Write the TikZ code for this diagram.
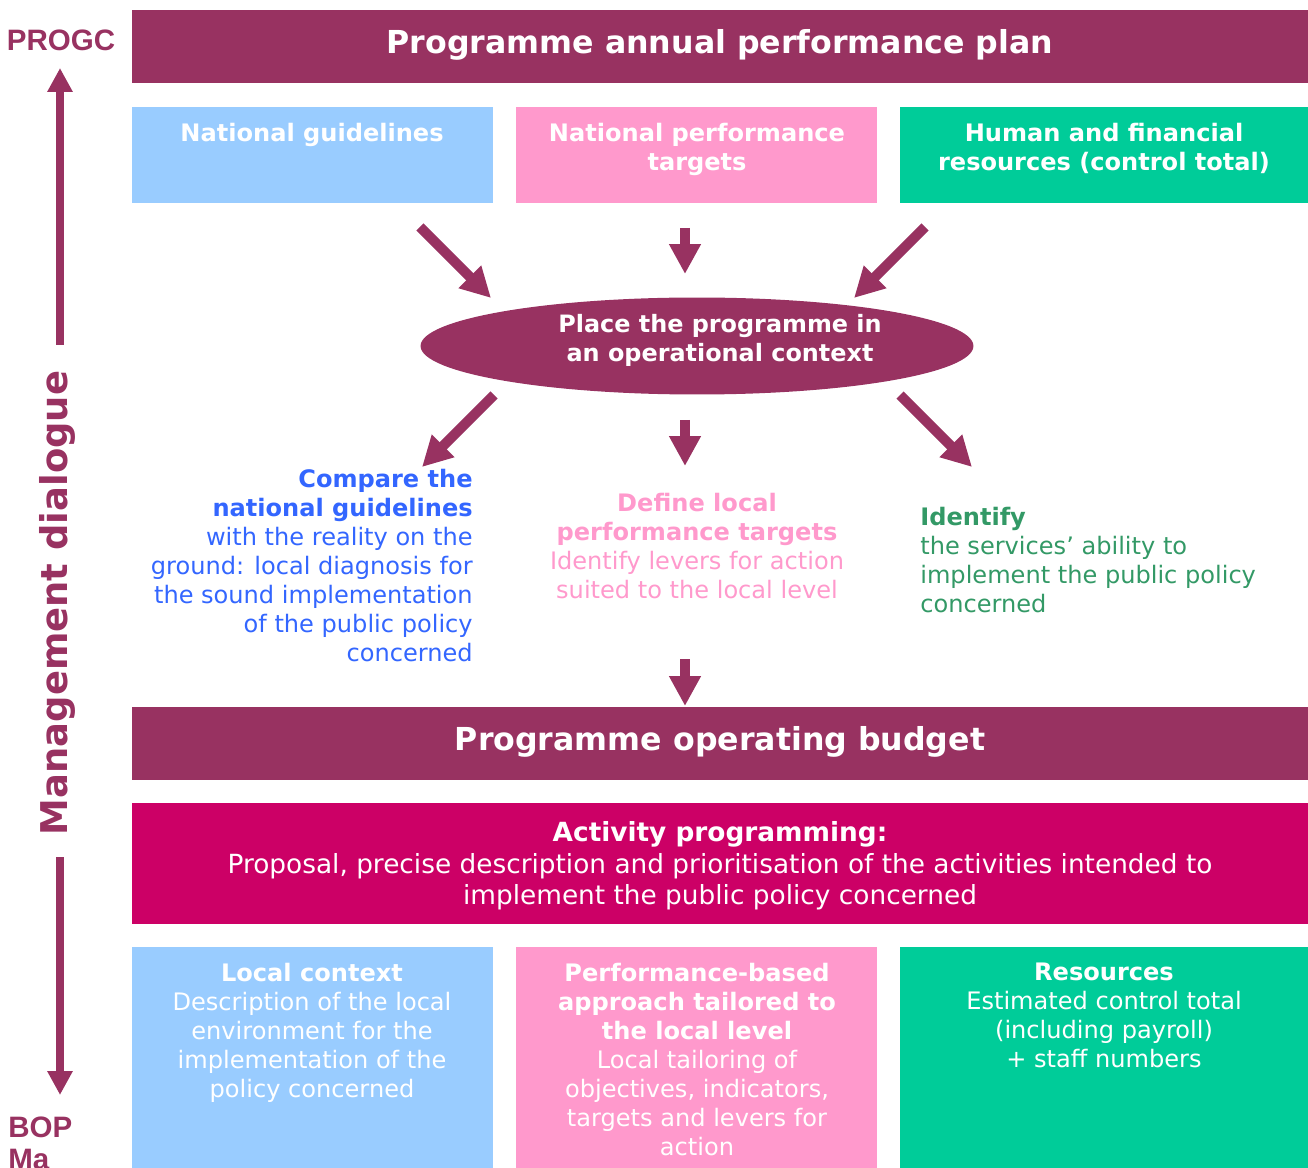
\documentclass[tikz,border=0pt]{standalone}
\usepackage{fontspec}
\setmainfont{DejaVu Sans}
\newfontfamily\arialfont{Liberation Sans}
\definecolor{plum}{RGB}{152, 50, 97}
\definecolor{skyblue}{RGB}{153, 204, 255}
\definecolor{rosepink}{RGB}{255, 153, 204}
\definecolor{seagreen}{RGB}{0, 204, 153}
\definecolor{deepmagenta}{RGB}{204, 0, 102}
\definecolor{textblue}{RGB}{51, 102, 255}
\definecolor{textgreen}{RGB}{51, 153, 102}
\usetikzlibrary{shapes, arrows.meta, positioning, calc}

\begin{document}
\begin{tikzpicture}[x=0.02cm, y=-0.02cm,
  bar/.style={fill=plum, text=white, minimum width=23.52cm, minimum height=1.46cm, inner sep=0pt, anchor=north west},
  card/.style={inner sep=0pt, anchor=north west},
  cardtext/.style={text=white, align=center, inner sep=0pt, anchor=north, font=\fontsize{13.7}{16.5}\selectfont},
  fatarrow/.style={plum, line width=0.2cm, -{Triangle[width=0.6cm, length=0.6cm]}},
  sidearrow/.style={plum, line width=0.16cm, -{Triangle[width=0.48cm, length=0.48cm]}}]
  \useasboundingbox (0,0) rectangle (1308,1168);

  % Annual plan
  \node[bar] (app) at (132,10) {};
  \node[text=white, font=\fontsize{18}{21}\selectfont\bfseries] (apptxt) at (720,45) {Programme annual performance plan};

  % Inputs
  \node[card, fill=skyblue, minimum width=7.22cm, minimum height=1.92cm] (ngd) at (132,107) {};
  \node[cardtext] at (312,123) {\textbf{National guidelines}};
  \node[card, fill=rosepink, minimum width=7.22cm, minimum height=1.92cm] (npt) at (516,107) {};
  \node[cardtext] at (697,123) {\textbf{National performance}\\\textbf{targets}};
  \node[card, fill=seagreen, minimum width=8.16cm, minimum height=1.92cm] (hfr) at (900,107) {};
  \node[cardtext] at (1104,123) {\textbf{Human and financial}\\\textbf{resources (control total)}};

  % Operational context
  \node[ellipse, fill=plum, minimum width=11.06cm, minimum height=1.94cm, inner sep=0pt] (ctx) at (697,346) {};
  \node[text=white, align=center, inner sep=0pt, font=\fontsize{13.6}{16.5}\selectfont\bfseries] (ctxtxt) at (720,340) {Place the programme in\\an operational context};

  \coordinate (i1) at (420,227); \coordinate (i1e) at (491,298);
  \coordinate (i2) at (685,228); \coordinate (i2e) at (685,274);
  \coordinate (i3) at (925,227); \coordinate (i3e) at (854,298);
  \draw[fatarrow] (i1) -- (i1e);
  \draw[fatarrow] (i2) -- (i2e);
  \draw[fatarrow] (i3) -- (i3e);

  \coordinate (o1) at (494,395); \coordinate (o1e) at (422,467);
  \coordinate (o2) at (685,420); \coordinate (o2e) at (685,466);
  \coordinate (o3) at (900,395); \coordinate (o3e) at (972,467);
  \draw[fatarrow] (o1) -- (o1e);
  \draw[fatarrow] (o2) -- (o2e);
  \draw[fatarrow] (o3) -- (o3e);

  % Three tasks
  \node[text=textblue, align=right, inner sep=0pt, anchor=north east, font=\fontsize{13.7}{16.5}\selectfont] (cmp) at (473,469) {\textbf{Compare the}\\\textbf{national guidelines}\\with the reality on the\\ground: local diagnosis for\\the sound implementation\\of the public policy\\concerned};
  \node[text=rosepink, align=center, inner sep=0pt, anchor=north, font=\fontsize{13.7}{16.5}\selectfont] (dlt) at (697,493) {\textbf{Define local}\\\textbf{performance targets}\\Identify levers for action\\suited to the local level};
  \node[text=textgreen, align=left, inner sep=0pt, anchor=north west, font=\fontsize{13.7}{16.5}\selectfont] (idf) at (920,507) {\textbf{Identify}\\the services’ ability to\\implement the public policy\\concerned};

  \coordinate (b1) at (685,659); \coordinate (b1e) at (685,706);
  \draw[fatarrow] (b1) -- (b1e);

  % Operating budget
  \node[bar] (bop) at (132,707) {};
  \node[text=white, font=\fontsize{18}{21}\selectfont\bfseries] (boptxt) at (720,742) {Programme operating budget};

  \node[card, fill=deepmagenta, minimum width=23.52cm, minimum height=2.42cm] (act) at (132,803) {};
  \node[text=white, align=center, inner sep=0pt, font=\fontsize{15}{18}\selectfont] (acttxt) at (720,866) {\textbf{Activity programming:}\\Proposal, precise description and prioritisation of the activities intended to\\implement the public policy concerned};

  % Contents
  \node[card, fill=skyblue, minimum width=7.22cm, minimum height=4.42cm] (lcx) at (132,947) {};
  \node[cardtext] at (312,963) {\textbf{Local context}\\Description of the local\\environment for the\\implementation of the\\policy concerned};
  \node[card, fill=rosepink, minimum width=7.22cm, minimum height=4.42cm] (pba) at (516,947) {};
  \node[cardtext] at (697,963) {\textbf{Performance-based}\\\textbf{approach tailored to}\\\textbf{the local level}\\Local tailoring of\\objectives, indicators,\\targets and levers for\\action};
  \node[card, fill=seagreen, minimum width=8.16cm, minimum height=4.42cm] (res) at (900,947) {};
  \node[cardtext] at (1104,963) {\textbf{Resources}\\Estimated control total\\(including payroll)\\+ staff numbers};

  % Management dialogue
  \node[text=plum, font=\arialfont\fontsize{16.8}{18}\selectfont\bfseries] (progc) at (61,40) {PROGC};
  \node[text=plum, align=left, inner sep=0pt, anchor=north west, font=\arialfont\fontsize{16.8}{18}\selectfont\bfseries] (bopma) at (8,1117) {BOP\\Ma};
  \node[text=plum, rotate=90, font=\fontsize{21}{24}\selectfont\bfseries] (mgd) at (57,603) {Management dialogue};
  \coordinate (up) at (60,345); \coordinate (upe) at (60,68);
  \coordinate (dn) at (60,857); \coordinate (dne) at (60,1095);
  \draw[sidearrow] (up) -- (upe);
  \draw[sidearrow] (dn) -- (dne);
\end{tikzpicture}
\end{document}
